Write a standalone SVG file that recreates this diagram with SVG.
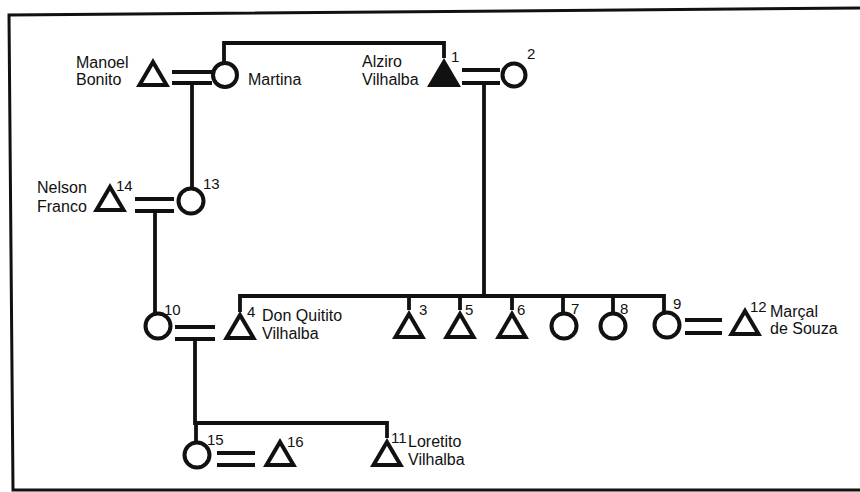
<svg xmlns="http://www.w3.org/2000/svg" xmlns:xlink="http://www.w3.org/1999/xlink" width="860" height="492" viewBox="0 0 860 492">
<style>
  .ln{fill:none;stroke:#111;stroke-width:3.8;stroke-linecap:butt}
  .sh{fill:none;stroke:#111;stroke-width:4;stroke-linejoin:miter}
  .fill{fill:#111}
  .t{font-family:"Liberation Sans",Arial,sans-serif;font-size:16px;fill:#111}
  .n{font-family:"Liberation Sans",Arial,sans-serif;font-size:15px;fill:#111}
</style>
<defs>
  <path id="tri" d="M0,0 L13.5,23 L-13.5,23 Z"/>
</defs>
<rect width="860" height="492" fill="#fff"/>
<path d="M860,8 L9,15 L13,490 L860,490" fill="none" stroke="#111" stroke-width="3"/>
<g id="connectors">
  <path class="ln" d="M224,63 V43 H444 V58"/>
  <path class="ln" d="M172,72 H212 M172,83 H212"/>
  <path class="ln" d="M192,83 V189"/>
  <path class="ln" d="M462,70 H500 M462,83 H500"/>
  <path class="ln" d="M484,83 V296"/>
  <path class="ln" d="M135,199 H174 M135,211 H174"/>
  <path class="ln" d="M155,211 V314"/>
  <path class="ln" d="M175,327 H215 M175,339 H215"/>
  <path class="ln" d="M240,312 V296 H664 V313"/>
  <path class="ln" d="M409,296 V310 M460,296 V310 M512,296 V310 M563,296 V314 M613,296 V314"/>
  <path class="ln" d="M685,320 H722 M685,333 H722"/>
  <path class="ln" d="M195,339 V423 H387 V438"/>
  <path class="ln" d="M196,423 V443"/>
  <path class="ln" d="M217,453 H255 M217,465 H255"/>
</g>
<g id="manoel">
  <use href="#tri" class="sh" transform="translate(153,62)"/>
  <text class="t" x="76" y="68">Manoel</text>
  <text class="t" x="76" y="85">Bonito</text>
</g>
<g id="martina">
  <circle class="sh" cx="225" cy="75" r="12"/>
  <text class="t" x="248" y="85">Martina</text>
</g>
<g id="n1">
  <use href="#tri" class="sh fill" transform="translate(444,62)"/>
  <text class="n" x="451" y="62">1</text>
  <text class="t" x="362" y="67">Alziro</text>
  <text class="t" x="362" y="85">Vilhalba</text>
</g>
<g id="n2">
  <circle class="sh" cx="514" cy="75" r="11.5"/>
  <text class="n" x="527" y="59">2</text>
</g>
<g id="n14">
  <use href="#tri" class="sh" transform="translate(110,187)"/>
  <text class="n" x="116" y="191">14</text>
  <text class="t" x="37" y="193">Nelson</text>
  <text class="t" x="37" y="212">Franco</text>
</g>
<g id="n13">
  <circle class="sh" cx="191" cy="201" r="12.5"/>
  <text class="n" x="203" y="189">13</text>
</g>
<g id="n10">
  <circle class="sh" cx="158" cy="326" r="12.5"/>
  <text class="n" x="164" y="315">10</text>
</g>
<g id="n4">
  <use href="#tri" class="sh" transform="translate(240,315)"/>
  <text class="n" x="247" y="317">4</text>
  <text class="t" x="262" y="321">Don Quitito</text>
  <text class="t" x="262" y="339">Vilhalba</text>
</g>
<g id="n3">
  <use href="#tri" class="sh" transform="translate(409,314)"/>
  <text class="n" x="419" y="315">3</text>
</g>
<g id="n5">
  <use href="#tri" class="sh" transform="translate(460,314)"/>
  <text class="n" x="465" y="315">5</text>
</g>
<g id="n6">
  <use href="#tri" class="sh" transform="translate(512,314)"/>
  <text class="n" x="517" y="315">6</text>
</g>
<g id="n7">
  <circle class="sh" cx="564" cy="326" r="12.5"/>
  <text class="n" x="571" y="314">7</text>
</g>
<g id="n8">
  <circle class="sh" cx="613" cy="326" r="12.5"/>
  <text class="n" x="620" y="314">8</text>
</g>
<g id="n9">
  <circle class="sh" cx="667" cy="325" r="12.5"/>
  <text class="n" x="673" y="309">9</text>
</g>
<g id="n12">
  <use href="#tri" class="sh" transform="translate(745,311)"/>
  <text class="n" x="750" y="312">12</text>
  <text class="t" x="770" y="317">Marçal</text>
  <text class="t" x="770" y="334">de Souza</text>
</g>
<g id="n15">
  <circle class="sh" cx="197" cy="455" r="12.5"/>
  <text class="n" x="207" y="445">15</text>
</g>
<g id="n16">
  <use href="#tri" class="sh" transform="translate(280,442)"/>
  <text class="n" x="287" y="447">16</text>
</g>
<g id="n11">
  <use href="#tri" class="sh" transform="translate(387,442)"/>
  <text class="n" x="391" y="443">11</text>
  <text class="t" x="408" y="447">Loretito</text>
  <text class="t" x="408" y="465">Vilhalba</text>
</g>
</svg>
